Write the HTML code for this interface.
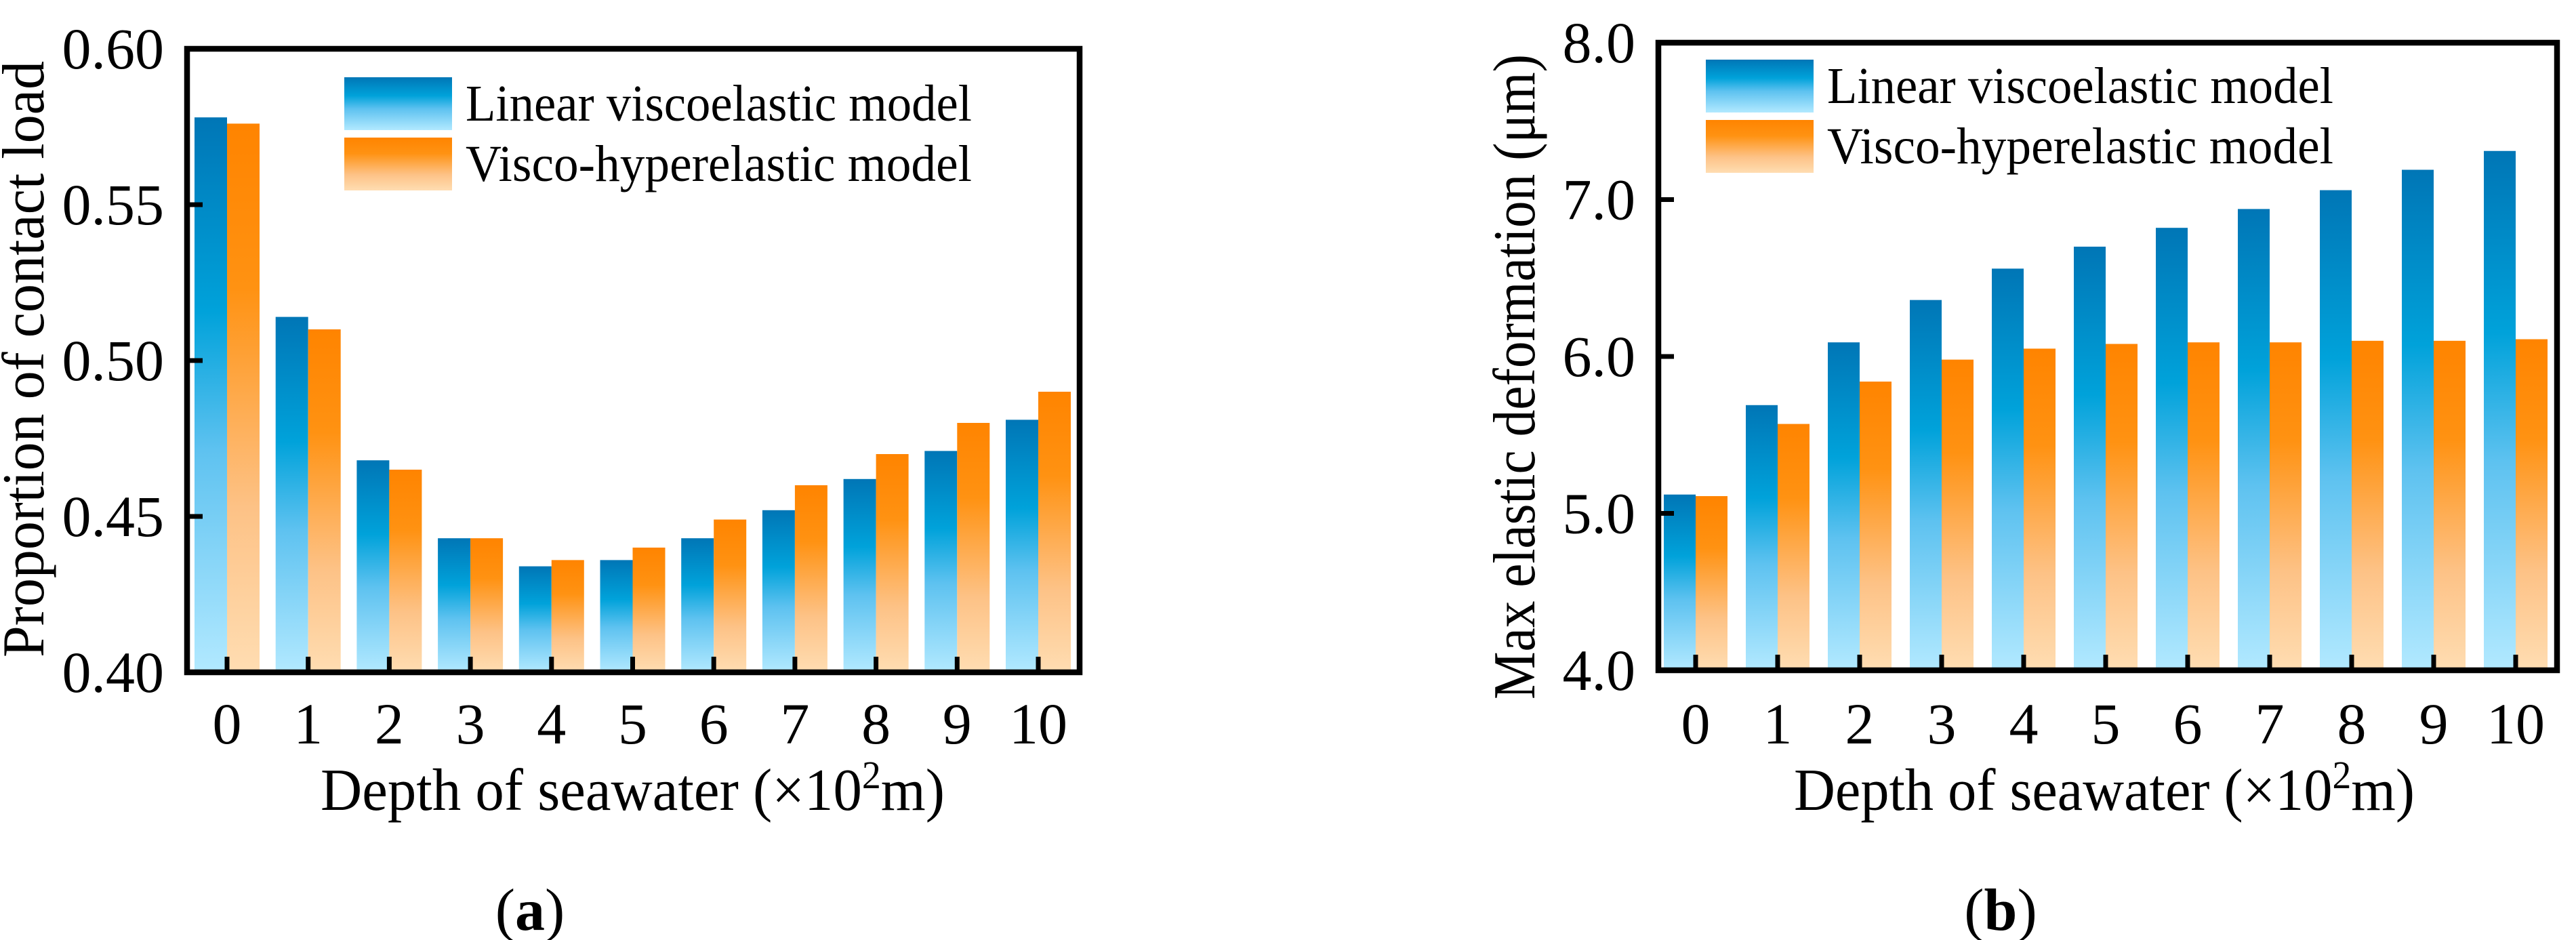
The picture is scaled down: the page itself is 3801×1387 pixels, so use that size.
<!DOCTYPE html>
<html><head><meta charset="utf-8"><style>
html,body{margin:0;padding:0;background:#fff;}
svg{display:block;}
svg text{font-family:"Liberation Serif","DejaVu Serif","Times New Roman",serif;fill:#000;}
</style></head><body>
<svg id="fig" width="3801" height="1387" viewBox="0 0 3801 1387" xmlns="http://www.w3.org/2000/svg" font-family="Liberation Serif, DejaVu Serif, serif">
<defs>
<linearGradient id="gBlue" x1="0" y1="0" x2="0" y2="1">
<stop offset="0" stop-color="#0076B6"/><stop offset="0.35" stop-color="#00A2DA"/><stop offset="0.6" stop-color="#5EC2F0"/><stop offset="1" stop-color="#B2E9FF"/>
</linearGradient>
<linearGradient id="gOrange" x1="0" y1="0" x2="0" y2="1">
<stop offset="0" stop-color="#FF8400"/><stop offset="0.3" stop-color="#FF9212"/><stop offset="0.7" stop-color="#FDC286"/><stop offset="1" stop-color="#FFDDB2"/>
</linearGradient>
</defs>
</svg>
<script>
const categories = [0,1,2,3,4,5,6,7,8,9,10];
const seriesNames = ["Linear viscoelastic model","Visco-hyperelastic model"];
const contactLinear = [0.578,0.514,0.468,0.443,0.434,0.436,0.443,0.452,0.462,0.471,0.481];
const contactHyper  = [0.576,0.510,0.465,0.443,0.436,0.440,0.449,0.460,0.470,0.480,0.490];
const contactTicks  = ["0.40","0.45","0.50","0.55","0.60"];
const deformLinear = [5.12,5.69,6.09,6.36,6.56,6.70,6.82,6.94,7.06,7.19,7.31];
const deformHyper  = [5.11,5.57,5.84,5.98,6.05,6.08,6.09,6.09,6.10,6.10,6.11];
const deformTicks  = ["4.0","5.0","6.0","7.0","8.0"];

const NS="http://www.w3.org/2000/svg";
const FONT="Liberation Serif, DejaVu Serif, serif";
const svg=document.getElementById('fig');
function mk(tag,attrs,parent){const e=document.createElementNS(NS,tag);for(const k in attrs)e.setAttribute(k,attrs[k]);if(tag==='text')e.setAttribute('font-family',FONT);(parent||svg).appendChild(e);return e;}

function drawChart(o){
  const g=mk('g',{});
  
  
  const ymin=parseFloat(o.ticks[0]), ymax=parseFloat(o.ticks[o.ticks.length-1]);
  const y=v=>o.bottom-(v-ymin)/(ymax-ymin)*(o.bottom-o.top);
  const x=c=>o.x0+c*o.step;
  const bw=o.bw;
  o.a.forEach((v,i)=>{
    const r=mk('rect',{x:x(categories[i])-bw,y:y(v),width:bw,height:o.bottom-y(v),fill:'url(#gBlue)'},g);
    
    
  });
  o.b.forEach((v,i)=>{
    const r=mk('rect',{x:x(categories[i]),y:y(v),width:bw,height:o.bottom-y(v),fill:'url(#gOrange)'},g);
    
    
  });
  const f=mk('rect',{x:o.left,y:o.top,width:o.right-o.left,height:o.bottom-o.top,fill:'none',stroke:'#000','stroke-width':8.5},g);
  
  
  o.ticks.forEach(t=>{
    const yy=y(parseFloat(t));
    const l=mk('line',{x1:o.left,x2:o.left+23,y1:yy,y2:yy,stroke:'#000','stroke-width':7},g);
    
    
    const tx=mk('text',{x:o.labelRight,y:yy+29,'font-size':86,'text-anchor':'end'},g);
    tx.textContent=t;
    
    
  });
  categories.forEach(c=>{
    const xx=x(c);
    const l=mk('line',{x1:xx,x2:xx,y1:o.bottom,y2:o.bottom-23,stroke:'#000','stroke-width':7},g);
    
    
    const tx=mk('text',{x:xx,y:1097,'font-size':86,'text-anchor':'middle'},g);
    tx.textContent=c;
    
    
  });
  [['url(#gBlue)',o.legTop],['url(#gOrange)',o.legTop+89]].forEach((s,i)=>{
    const r=mk('rect',{x:o.legLeft,y:s[1],width:159,height:78,fill:s[0]},g);
    
    
    const t=mk('text',{x:o.legLeft+179,y:s[1]+64,'font-size':76,textLength:747,lengthAdjust:'spacingAndGlyphs'},g);
    t.textContent=seriesNames[i];
    
    
  });
  const xt=mk('text',{x:o.xtStart,y:1195,'font-size':88,textLength:o.xtLen,lengthAdjust:'spacingAndGlyphs'},g);
  xt.innerHTML='Depth of seawater (×10<tspan dy="-32" font-size="58">2</tspan><tspan dy="32">m)</tspan>';
  
  
  const yt=mk('text',{x:0,y:0,'font-size':88,'text-anchor':'middle',textLength:o.ytLen,lengthAdjust:'spacingAndGlyphs',transform:`translate(${o.ytX},${o.ytY}) rotate(-90)`},g);
  yt.textContent=o.ytitle;
  
  
  const pl=mk('text',{x:o.panelX,y:1372,'font-size':88,'text-anchor':'middle'},g);
  pl.innerHTML='(<tspan font-weight="bold">'+o.panel+'</tspan>)';
  
  
}

drawChart({name:'chart-a',a:contactLinear,b:contactHyper,ticks:contactTicks,
  left:276,right:1593,top:72,bottom:992,x0:335,step:119.7,bw:48,labelRight:242,
  legLeft:508,legTop:114,xtStart:473,xtLen:921,ytX:64,ytY:530,ytLen:880,
  ytitle:'Proportion of contact load',panelX:782,panel:'a'});
drawChart({name:'chart-b',a:deformLinear,b:deformHyper,ticks:deformTicks,
  left:2447,right:3773,top:63,bottom:989,x0:2502,step:121,bw:47,labelRight:2413,
  legLeft:2517,legTop:88,xtStart:2647,xtLen:916,ytX:2264,ytY:556,ytLen:952,
  ytitle:'Max elastic deformation (μm)',panelX:2952,panel:'b'});
</script>
</body></html>
